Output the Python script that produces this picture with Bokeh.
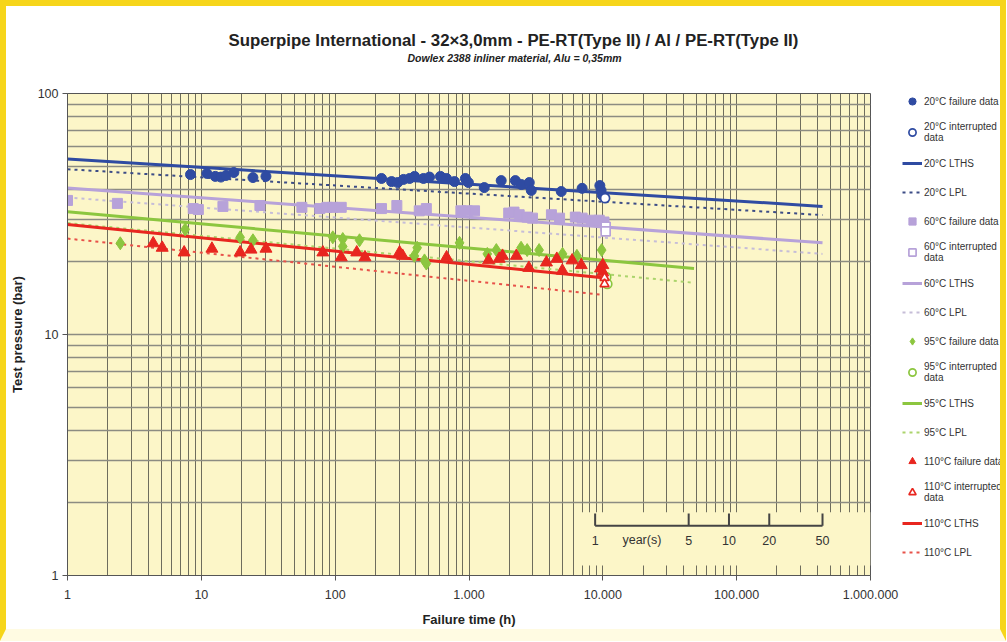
import math
from bokeh.plotting import figure
from bokeh.layouts import row
from bokeh.models import (FixedTicker, CustomJSTickFormatter, Legend, LegendItem, Title, Range1d,
                          ColumnDataSource, InlineStyleSheet)
from bokeh.core.properties import value
from bokeh.embed import file_html
from bokeh.resources import INLINE

FONT = "Liberation Sans"

# ---------------- data ----------------
t20_fail = [8.3, 11.0, 12.7, 14.0, 15.3, 17.5, 24.3, 30.4, 222, 264, 293, 324, 360, 392, 457, 507,
            612, 679, 779, 940, 990, 1300, 1740, 2220, 2460, 2820, 2920, 4890, 7000, 9500, 9700, 9900]
p20_fail = [46.1, 46.6, 45.3, 45.0, 45.7, 47.0, 44.8, 45.3, 44.4, 43.1, 42.7, 44.0, 44.4, 45.3, 44.4, 45.0,
            45.3, 44.4, 43.1, 44.4, 42.7, 40.7, 43.5, 43.5, 41.9, 42.7, 39.6, 39.2, 40.4, 41.5, 39.6, 37.8]
t20_int = [10400]
p20_int = [36.8]

t60_fail = [1.0, 2.36, 8.7, 9.5, 14.5, 27.4, 56.4, 76.8, 86.7, 96, 111, 222, 289, 425, 480, 870, 970, 1100,
            1980, 2170, 2370, 2720, 2980, 4130, 4750, 6230, 7000, 8200, 9400, 10200]
p60_fail = [36.0, 35.0, 33.3, 33.0, 34.0, 34.3, 33.7, 33.3, 33.7, 33.7, 33.7, 33.3, 34.3, 32.6, 33.3, 32.6, 32.6, 32.6,
            31.9, 32.2, 31.4, 30.7, 30.4, 31.4, 30.4, 30.7, 30.4, 29.8, 29.8, 29.3]
t60_int = [10500, 10500]
p60_int = [28.0, 26.8]

t95_fail = [2.48, 7.57, 19.5, 24.3, 96, 114, 114, 152, 390, 410, 465, 480, 850, 1370, 1600, 2450, 2720,
            3340, 5000, 6400, 9800]
p95_fail = [23.9, 27.3, 25.3, 24.6, 25.3, 24.9, 23.2, 24.6, 21.2, 22.9, 20.3, 19.7, 24.0, 21.6, 22.4, 22.9, 22.4,
            22.4, 21.6, 21.2, 22.4]
t95_int = [10600, 10800]
p95_int = [17.3, 16.2]

t110_fail = [4.37, 5.1, 7.44, 12.0, 19.5, 23.5, 30.4, 80.9, 111, 145, 167, 303, 319, 680, 1400, 1680, 1780,
             2260, 2800, 3790, 4530, 4980, 5900, 6900, 9600, 10000, 10000]
p110_fail = [23.9, 22.9, 21.9, 22.7, 21.9, 22.5, 22.7, 21.9, 20.9, 21.9, 20.9, 21.9, 21.2, 20.9, 20.3, 20.6, 21.2,
             21.2, 18.9, 19.9, 20.6, 18.4, 20.3, 19.4, 18.8, 19.4, 18.1]
t110_int = [10300, 10300]
p110_int = [17.2, 16.2]

# regression lines (end points)
t_lths_20 = [1, 438000]; p_lths_20 = [53.5, 34.0]
t_lpl_20 = [1, 438000];  p_lpl_20 = [48.5, 31.3]
t_lths_60 = [1, 438000]; p_lths_60 = [40.5, 24.0]
t_lpl_60 = [1, 438000];  p_lpl_60 = [37.0, 21.6]
t_lths_95 = [1, 48000];  p_lths_95 = [32.3, 18.8]
t_lpl_95 = [1, 48000];   p_lpl_95 = [29.0, 16.4]
t_lths_110 = [1, 10000]; p_lths_110 = [28.6, 17.2]
t_lpl_110 = [1, 10000];  p_lpl_110 = [25.0, 14.6]

x_major = [1, 10, 100, 1000, 10000, 100000, 1000000]
y_major = [1, 10, 100]
YEARS = [1, 5, 10, 20, 50]
HOURS_PER_YEAR = 8760

TITLE = "Superpipe International - 32×3,0mm - PE-RT(Type II) / Al / PE-RT(Type II)"
SUBTITLE = "Dowlex 2388 inliner material, Alu = 0,35mm"
TEMPS = ["20°C", "60°C", "95°C", "110°C"]

# ---------------- styles ----------------
BG = "#FCF6C8"
BLUE = "#2F4BA2"
PURPLE = "#B7A2D9"
GREEN = "#8CC63F"
RED = "#E8261F"
LPL_COLORS = ["#3C4C86", "#C6BDD8", "#ABD46C", "#E8524A"]
MAIN_COLORS = [BLUE, PURPLE, GREEN, RED]
MARKERS = ["circle", "square", "diamond", "triangle"]
OPEN_MARKERS = ["circle", "square", "circle", "triangle"]
FAIL_SIZES = [10, 10, 13, 12]

p = figure(width=901, height=641, x_axis_type="log", y_axis_type="log",
           x_range=(1, 1e6), y_range=(1, 100), title=None,
           output_backend="svg", toolbar_location=None,
           min_border_left=67, min_border_right=31, min_border_top=93, min_border_bottom=66)
p.background_fill_color = BG
p.border_fill_color = "white"
p.outline_line_color = "#555555"

x_minor = [m * 10 ** d for d in range(6) for m in range(2, 10)]
y_minor = [m * 10 ** d for d in range(2) for m in range(2, 10)]
p.xaxis.ticker = FixedTicker(ticks=x_major, minor_ticks=x_minor)
p.yaxis.ticker = FixedTicker(ticks=y_major, minor_ticks=y_minor)
p.xaxis.formatter = CustomJSTickFormatter(
    code="return String(Math.round(tick)).replace(/\\B(?=(\\d{3})+(?!\\d))/g, '.');")
p.yaxis.formatter = CustomJSTickFormatter(code="return String(Math.round(tick));")

for ax in (p.xaxis[0], p.yaxis[0]):
    ax.major_label_text_font = FONT
    ax.major_label_text_font_size = "12.5px"
    ax.major_label_text_color = "#333333"
    ax.axis_label_text_font = FONT
    ax.axis_label_text_font_size = "13px"
    ax.axis_label_text_font_style = "bold"
    ax.axis_label_text_color = "#222222"
    ax.axis_line_color = "#555555"
    ax.major_tick_line_color = "#555555"
    ax.major_tick_out = 5
    ax.major_tick_in = 0
    ax.minor_tick_line_color = None

p.xaxis.axis_label = "Failure time (h)"
p.yaxis.axis_label = "Test pressure (bar)"
p.xaxis.major_label_standoff = 9
p.xaxis.axis_label_standoff = 10
p.yaxis.major_label_standoff = 4
p.yaxis.axis_label_standoff = 10

p.xgrid.grid_line_color = "#55554A"
p.xgrid.minor_grid_line_color = "#55554A"
p.xgrid.grid_line_alpha = 0.85
p.xgrid.minor_grid_line_alpha = 0.85
p.ygrid.grid_line_color = "#8C8C82"
p.ygrid.minor_grid_line_color = "#8C8C82"
p.ygrid.grid_line_width = 1.3
p.ygrid.minor_grid_line_width = 1.3

# ---------------- year inset ----------------
yr_hours = [y * HOURS_PER_YEAR for y in YEARS]
p.quad(left=[6300], right=[1e6], bottom=[1.10], top=[1.83], fill_color=BG, line_color=None)
p.segment(x0=[yr_hours[0]], y0=[1.61], x1=[yr_hours[-1]], y1=[1.61], line_color="#444444", line_width=2)
p.segment(x0=yr_hours, y0=[1.61] * len(YEARS), x1=yr_hours, y1=[1.81] * len(YEARS),
          line_color="#444444", line_width=2)
p.text(x=yr_hours, y=[1.40] * len(YEARS), text=[str(y) for y in YEARS],
       text_align="center", text_baseline="middle", text_font=value(FONT),
       text_font_size="12.5px", text_color="#333333")
p.text(x=[math.sqrt(yr_hours[0] * yr_hours[1])], y=[1.40], text=["year(s)"],
       text_align="center", text_baseline="middle", text_font=value(FONT),
       text_font_size="12.5px", text_color="#333333")

# ---------------- sources ----------------
fails = [(t20_fail, p20_fail), (t60_fail, p60_fail), (t95_fail, p95_fail), (t110_fail, p110_fail)]
ints = [(t20_int, p20_int), (t60_int, p60_int), (t95_int, p95_int), (t110_int, p110_int)]
lths = [(t_lths_20, p_lths_20), (t_lths_60, p_lths_60), (t_lths_95, p_lths_95), (t_lths_110, p_lths_110)]
lpls = [(t_lpl_20, p_lpl_20), (t_lpl_60, p_lpl_60), (t_lpl_95, p_lpl_95), (t_lpl_110, p_lpl_110)]
src = lambda tp: ColumnDataSource(dict(t=tp[0], p=tp[1]))
fail_src = [src(d) for d in fails]
int_src = [src(d) for d in ints]
lths_src = [src(d) for d in lths]
lpl_src = [src(d) for d in lpls]


def draw_series(fig, i):
    col, lcol = MAIN_COLORS[i], LPL_COLORS[i]
    rl = fig.line("t", "p", source=lths_src[i], line_color=col, line_width=3)
    rp = fig.line("t", "p", source=lpl_src[i], line_color=lcol, line_width=2, line_dash="3 4")
    return rl, rp


def draw_marks(fig, i):
    col = MAIN_COLORS[i]
    rf = fig.scatter("t", "p", source=fail_src[i], marker=MARKERS[i], size=FAIL_SIZES[i],
                     fill_color=col, line_color=col)
    ri = fig.scatter("t", "p", source=int_src[i], marker=OPEN_MARKERS[i], size=9,
                     fill_color="white", line_color=col, line_width=1.7)
    return rf, ri


for i in range(4):
    draw_series(p, i)
for i in range(4):
    draw_marks(p, i)

# ---------------- titles ----------------
spacer = Title(text=" ", standoff=16, text_font=FONT, text_font_size="10.5px")
p.add_layout(spacer, "above")
sub = Title(text=SUBTITLE, align="left", offset=340, standoff=0,
            text_font=FONT, text_font_size="10.5px", text_font_style="bold italic", text_color="#222222")
p.add_layout(sub, "above")
main = Title(text=TITLE, align="left", offset=161, standoff=0,
             text_font=FONT, text_font_size="16.8px", text_font_style="bold", text_color="#222222")
p.add_layout(main, "above")

# ---------------- legend (side figure sharing the same sources) ----------------
lf = figure(width=105, height=641, x_range=Range1d(0, 1), y_range=Range1d(0, 1),
            x_axis_location=None, y_axis_location=None, title=None,
            output_backend="svg", toolbar_location=None, min_border=0)
lf.grid.visible = False
lf.outline_line_color = None
lf.background_fill_color = "white"
lf.border_fill_color = "white"

items = []
for i, temp in enumerate(TEMPS):
    rl, rp = draw_series(lf, i)
    rf, ri = draw_marks(lf, i)
    items += [LegendItem(label=f"{temp} failure data", renderers=[rf]),
              LegendItem(label=f"{temp} interrupted\ndata", renderers=[ri]),
              LegendItem(label=f"{temp} LTHS", renderers=[rl]),
              LegendItem(label=f"{temp} LPL", renderers=[rp])]

legend = Legend(items=items, location=(1, 14), orientation="vertical",
                glyph_width=20, glyph_height=18, label_height=18, spacing=11,
                label_standoff=2, padding=0, margin=0,
                label_text_font=FONT, label_text_font_size="10px", label_text_color="#333333",
                label_text_line_height=1.1,
                background_fill_alpha=0, border_line_alpha=0)
lf.add_layout(legend)

root = row(p, lf)
root.stylesheets = [InlineStyleSheet(css=(
    ":host { position: relative; }"
    ":host::after { content: ''; position: absolute; left: 0; top: 0; right: 0; bottom: 0;"
    " box-sizing: border-box; border-top: 6px solid #F6D51A; border-left: 6px solid #F6D51A;"
    " border-right: 6px solid #F6D51A; border-bottom: 12px solid #FFFBE2;"
    " pointer-events: none; z-index: 100; }"))]
open("out.html", "w").write(file_html(root, INLINE))
